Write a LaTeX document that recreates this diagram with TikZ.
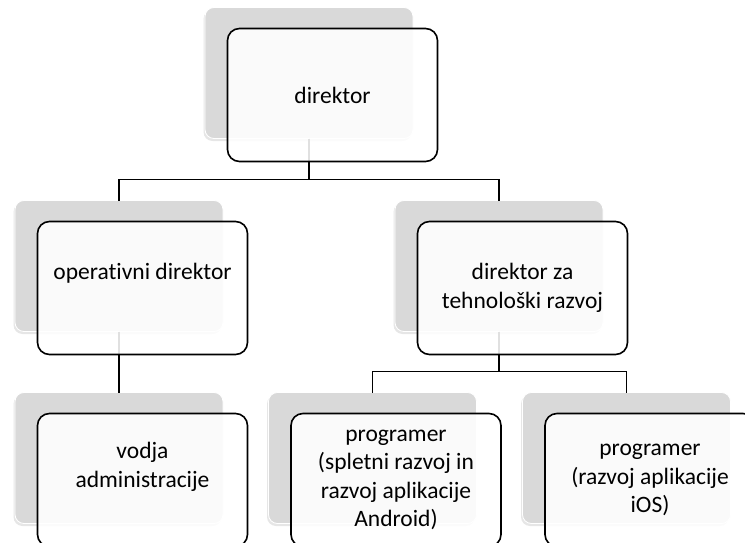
\documentclass[tikz,border=0pt]{standalone}
\usepackage{fontspec}
\setmainfont{Carlito}[Ligatures=NoCommon]
\usetikzlibrary{positioning,shadows}

\begin{document}
\begin{tikzpicture}[x=1pt, y=-1pt, font=\fontsize{23.5}{28.5}\selectfont,
    gbox/.style={rectangle, rounded corners=9pt, fill=gray!30, draw=white, line width=0.8pt,
      minimum width=208pt, minimum height=131pt, inner sep=0pt, outer sep=0pt,
      drop shadow={shadow xshift=-1.5pt, shadow yshift=-2.5pt, opacity=0.2}},
    wbox/.style={rectangle, rounded corners=12pt, draw=black, line width=1.6pt, fill=white,
      fill opacity=0.88, text opacity=1, minimum width=210pt, minimum height=133pt,
      inner sep=0pt, outer sep=0pt, align=center, below right=21pt and 22.5pt of #1},
    conn/.style={draw=black, line width=1.5pt},
    lbl/.style={align=center}]
    \useasboundingbox (0,0) rectangle (745,543);
    \node[gbox] (gdir) at (309,73) {};
    \node[gbox] (gop) at (119,266) {};
    \node[gbox] (gtech) at (499,266) {};
    \node[gbox] (gvod) at (119,458) {};
    \node[gbox] (gprog1) at (372.5,458) {};
    \node[gbox] (gprog2) at (626.5,458) {};
    \draw[conn] (gdir.south) -- ++(0,41) -| (gop.north);
    \draw[conn] (gdir.south) -- ++(0,41) -| (gtech.north);
    \draw[conn] (gop.south) -- (gvod.north);
    \draw[conn] (gtech.south) -- ++(0,40) -| (gprog1.north);
    \draw[conn] (gtech.south) -- ++(0,40) -| (gprog2.north);
    \node[wbox=gdir.north west] (dir) {direktor};
    \node[wbox=gop.north west] (op) {};
    \node[wbox=gtech.north west] (tech) {direktor za\\tehnološki razvoj};
    \node[wbox=gvod.north west] (vod) {};
    \node[wbox=gprog1.north west] (prog1) {programer\\(spletni razvoj in\\razvoj aplikacije\\Android)};
    \node[wbox=gprog2.north west] (prog2) {programer\\(razvoj aplikacije\\iOS)};
    \node[lbl] (optext) at ([yshift=15pt]op.center) {operativni direktor};
    \node[lbl] (vodtext) at ([yshift=13pt]vod.center) {vodja\\administracije};
\end{tikzpicture}
\end{document}
